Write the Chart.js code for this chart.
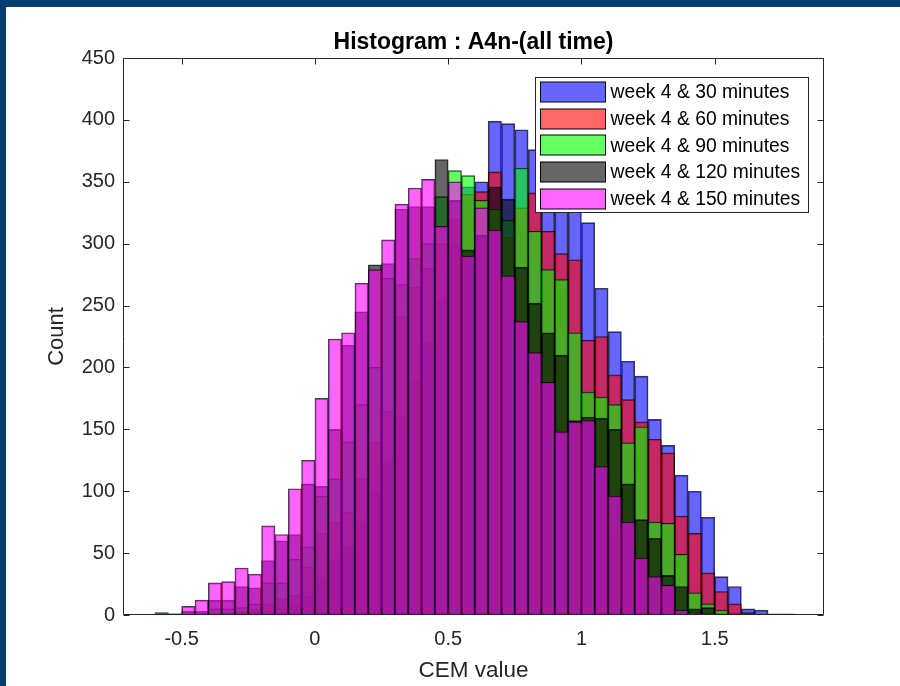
<!DOCTYPE html>
<html>
<head>
<meta charset="utf-8">
<script src="https://cdn.jsdelivr.net/npm/chart.js@4/dist/chart.umd.min.js"></script>
<style>
  html, body { margin: 0; padding: 0; width: 900px; height: 686px; overflow: hidden; background: #083d72; }
  #frame { position: absolute; left: 6px; top: 7px; width: 894px; height: 679px; background: #ffffff; }
  canvas { display: block; }
</style>
</head>
<body>
<div id="frame"><canvas id="hist" width="894" height="679"></canvas></div>
<script>
// Histogram bins: left edges, width 0.05
const binStarts = [
  -0.60, -0.55, -0.50, -0.45, -0.40, -0.35, -0.30, -0.25, -0.20, -0.15,
  -0.10, -0.05,  0.00,  0.05,  0.10,  0.15,  0.20,  0.25,  0.30,  0.35,
   0.40,  0.45,  0.50,  0.55,  0.60,  0.65,  0.70,  0.75,  0.80,  0.85,
   0.90,  0.95,  1.00,  1.05,  1.10,  1.15,  1.20,  1.25,  1.30,  1.35,
   1.40,  1.45,  1.50,  1.55,  1.60,  1.65,  1.70,  1.75
];
const binWidth = 0.05;

const seriesLabels = [
  'week 4 & 30 minutes',
  'week 4 & 60 minutes',
  'week 4 & 90 minutes',
  'week 4 & 120 minutes',
  'week 4 & 150 minutes'
];

// Counts per bin for each session
const counts30 = [
  0, 0, 0, 0, 0, 1, 2, 3, 4, 6,
  9, 15, 30, 45, 55, 75, 100, 125, 160, 190,
  220, 255, 300, 346, 350, 399, 397, 392, 376, 362,
  345, 330, 317, 264, 229, 205, 193, 158, 137, 113,
  100, 79, 31, 23, 5, 4, 1, 1
];
const counts60 = [
  0, 0, 0, 0, 1, 2, 3, 5, 9, 13,
  16, 39, 66, 75, 83, 110, 140, 165, 241, 265,
  280, 300, 320, 340, 342, 358, 305, 329, 341, 310,
  292, 287, 222, 225, 194, 174, 156, 142, 131, 80,
  66, 34, 19, 9, 2, 0, 0, 0
];
const counts90 = [
  0, 0, 0, 1, 5, 5, 6, 9, 26, 26,
  45, 55, 96, 110, 140, 170, 200, 272, 267, 288,
  300, 338, 359, 355, 335, 328, 319, 361, 310, 279,
  271, 228, 180, 176, 170, 139, 152, 75, 74, 49,
  18, 9, 4, 1, 0, 0, 0, 0
];
const counts120 = [
  1, 1, 3, 3, 12, 12, 23, 22, 44, 60,
  65, 106, 104, 150, 218, 245, 283, 284, 328, 330,
  330, 368, 335, 295, 307, 346, 336, 281, 252, 228,
  210, 157, 160, 159, 150, 106, 77, 62, 32, 23,
  5, 6, 1, 0, 1, 0, 0, 0
];
const counts150 = [
  2, 1, 7, 12, 26, 27, 38, 33, 72, 65,
  102, 125, 175, 223, 228, 268, 279, 303, 332, 345,
  352, 314, 350, 290, 329, 311, 274, 237, 212, 188,
  148, 156, 157, 120, 96, 75, 46, 31, 24, 4,
  2, 0, 0, 0, 0, 0, 0, 0
];

const xTickValues = [-0.5, 0, 0.5, 1, 1.5];
const yTickValues = [0, 50, 100, 150, 200, 250, 300, 350, 400, 450];

const seriesCounts = [counts30, counts60, counts90, counts120, counts150];
const faceColors = [
  'rgba(0, 0, 255, 0.6)',
  'rgba(255, 0, 0, 0.6)',
  'rgba(0, 255, 0, 0.6)',
  'rgba(0, 0, 0, 0.6)',
  'rgba(255, 0, 255, 0.6)'
];

const FONT = "'Liberation Sans', Arial, Helvetica, sans-serif";
const AXIS_COLOR = '#262626';

const datasets = seriesCounts.map((counts, k) => ({
  label: seriesLabels[k],
  data: counts.map((c, i) => ({ x: binStarts[i] + binWidth / 2, y: c })),
  backgroundColor: faceColors[k],
  borderColor: 'rgba(0, 0, 0, 0.75)',
  borderWidth: 1,
  borderSkipped: false,
  grouped: false,
  barPercentage: 1,
  categoryPercentage: 1,
  // first series at the bottom, last one drawn on top
  order: seriesCounts.length - k
}));

// Box around the plot area with inward tick marks on all four sides
const axesBox = {
  id: 'axesBox',
  afterDatasetsDraw(chart) {
    const { ctx, chartArea: a, scales: { x, y } } = chart;
    const L = Math.round(a.left) + 0.5, R = Math.round(a.right) - 0.5;
    const T = Math.round(a.top) + 0.5, B = Math.round(a.bottom) - 0.5;
    const len = 6;
    ctx.save();
    ctx.strokeStyle = AXIS_COLOR;
    ctx.lineWidth = 1;
    ctx.beginPath();
    ctx.rect(L, T, R - L, B - T);
    xTickValues.forEach(v => {
      const px = Math.round(x.getPixelForValue(v)) + 0.5;
      ctx.moveTo(px, B); ctx.lineTo(px, B - len);
      ctx.moveTo(px, T); ctx.lineTo(px, T + len);
    });
    yTickValues.forEach(v => {
      const py = Math.round(y.getPixelForValue(v)) + 0.5;
      ctx.moveTo(L, py); ctx.lineTo(L + len, py);
      ctx.moveTo(R, py); ctx.lineTo(R - len, py);
    });
    ctx.stroke();
    ctx.restore();
  }
};

// Boxed legend in the upper right corner of the plot
const boxedLegend = {
  id: 'boxedLegend',
  afterDraw(chart) {
    const { ctx } = chart;
    const box = { x: 529.5, y: 70.5, w: 273, h: 135 };
    const rowH = 26.7;
    ctx.save();
    ctx.fillStyle = '#ffffff';
    ctx.fillRect(box.x, box.y, box.w, box.h);
    ctx.strokeStyle = AXIS_COLOR;
    ctx.lineWidth = 1;
    ctx.strokeRect(box.x, box.y, box.w, box.h);
    ctx.font = '19.3px ' + FONT;
    ctx.textBaseline = 'middle';
    ctx.textAlign = 'left';
    chart.data.datasets.forEach((ds, k) => {
      const cy = box.y + 14.5 + k * rowH;
      ctx.fillStyle = ds.backgroundColor;
      ctx.fillRect(box.x + 5, Math.round(cy - 10), 65, 20);
      ctx.strokeStyle = '#000000';
      ctx.strokeRect(box.x + 5, Math.round(cy - 10), 65, 20);
      ctx.fillStyle = '#000000';
      ctx.fillText(ds.label, box.x + 75, cy + 1);
    });
    ctx.restore();
  }
};

new Chart(document.getElementById('hist'), {
  type: 'bar',
  data: { datasets },
  options: {
    responsive: false,
    animation: false,
    layout: { padding: { left: 0, right: 76, top: 0, bottom: 0 } },
    plugins: {
      legend: { display: false },
      tooltip: { enabled: false },
      title: {
        display: true,
        fullSize: false,
        text: 'Histogram : A4n-(all time)',
        color: '#000000',
        font: { family: FONT, size: 23, weight: 'bold', lineHeight: 1.2 },
        padding: { top: 22, bottom: 1.4 }
      }
    },
    scales: {
      x: {
        type: 'linear',
        min: -0.72,
        max: 1.91,
        offset: false,
        grid: { display: false, drawTicks: false },
        border: { display: false },
        afterBuildTicks: s => { s.ticks = xTickValues.map(v => ({ value: v })); },
        afterFit: s => { s.height = 71; },
        ticks: {
          color: AXIS_COLOR,
          padding: 12,
          maxRotation: 0,
          font: { family: FONT, size: 20 },
          callback: v => String(v)
        },
        title: {
          display: true,
          text: 'CEM value',
          color: AXIS_COLOR,
          font: { family: FONT, size: 22.5, lineHeight: 1.2 },
          padding: { top: 0, bottom: 2 }
        }
      },
      y: {
        type: 'linear',
        min: 0,
        max: 450,
        grid: { display: false, drawTicks: false },
        border: { display: false },
        afterBuildTicks: s => { s.ticks = yTickValues.map(v => ({ value: v })); },
        afterFit: s => { s.width = 117; },
        ticks: {
          color: AXIS_COLOR,
          padding: 8,
          font: { family: FONT, size: 20 },
          callback: v => String(v)
        },
        title: {
          display: true,
          text: 'Count',
          color: AXIS_COLOR,
          font: { family: FONT, size: 22, lineHeight: 1.2 },
          padding: { top: 38, bottom: 0 }
        }
      }
    }
  },
  plugins: [axesBox, boxedLegend]
});
</script>
</body>
</html>
